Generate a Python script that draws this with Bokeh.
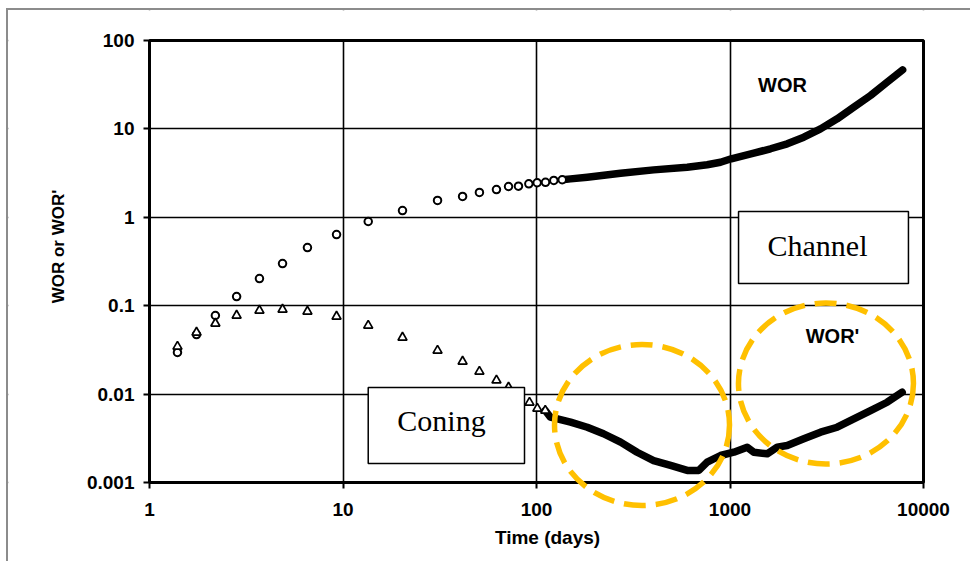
import math
from bokeh.plotting import figure
from bokeh.models import FixedTicker, CustomJSTickFormatter, Label
from bokeh.embed import file_html
from bokeh.resources import INLINE

# ---------------- data ----------------
x_ticks = [1, 10, 100, 1000, 10000]
y_ticks = [0.001, 0.01, 0.1, 1, 10, 100]

# WOR: separate open circles (early time)
wor_circ_t = [1.395, 1.75, 2.19, 2.82, 3.70, 4.87, 6.55, 9.26, 13.5, 20.3, 30.8,
              41.5, 50.7, 62.1, 71.7, 80.7, 91.3, 100.8, 111.3, 122.9, 135.8]
wor_circ_v = [0.0296, 0.0472, 0.0775, 0.127, 0.203, 0.30, 0.455, 0.638, 0.896, 1.19, 1.55,
              1.72, 1.91, 2.06, 2.23, 2.25, 2.39, 2.46, 2.49, 2.61, 2.66]

# WOR: dense late-time points (appear as a thick line)
wor_dense_t = [135.8, 150, 183, 272, 403, 601, 762, 893, 1015, 1328, 1620, 1976,
               2406, 2937, 3580, 4364, 5324, 6491, 7800]
wor_dense_v = [2.66, 2.72, 2.84, 3.15, 3.44, 3.69, 3.93, 4.20, 4.59, 5.31, 5.96, 6.78,
               8.05, 10.0, 13.0, 17.6, 23.9, 33.8, 46.5]

# WOR': separate open triangles (early time)
worp_tri_t = [1.395, 1.75, 2.19, 2.82, 3.70, 4.87, 6.55, 9.26, 13.5, 20.3, 30.8,
              41.5, 50.7, 62.1, 71.7, 80.7, 92, 101, 111]
worp_tri_v = [0.0345, 0.0498, 0.063, 0.0775, 0.0883, 0.0906, 0.0860, 0.0755, 0.0597,
              0.0437, 0.0311, 0.0234, 0.018, 0.0143, 0.0119, 0.0098, 0.00803, 0.00687, 0.00652]

# WOR': dense late-time points (appear as a thick line)
worp_dense_t = [111, 118, 150, 183, 222, 272, 331, 403, 493, 601, 690, 762, 893, 1047,
                1227, 1328, 1557, 1754, 1976, 2406, 2937, 3580, 4364, 5324, 6491, 7762]
worp_dense_v = [0.00652, 0.00548, 0.00481, 0.00422, 0.00356, 0.00286, 0.00220, 0.00177,
                0.00156, 0.00137, 0.00137, 0.00170, 0.00202, 0.00220, 0.00251, 0.00220,
                0.00211, 0.00251, 0.00262, 0.00312, 0.00371, 0.00422, 0.00525, 0.00652,
                0.00809, 0.0105]

# annotation positions (data coordinates)
channel_box = dict(left=1107, right=8360, top=1.164, bottom=0.178)
channel_text = (2833, 0.48)
coning_box = dict(left=13.5, right=86.7, top=0.01188, bottom=0.00164)
coning_text = (32.3, 0.00503)
wor_label = (1867, 31.0)
worp_label = (3388, 0.046)
# dashed highlight ellipses (centres)
ellipse_t = [351, 3133]
ellipse_v = [0.00447, 0.01318]

# ---------------- layout ----------------
X_MIN, X_MAX = 1, 10000
Y_MIN, Y_MAX = 0.001, 100
PLOT_W, PLOT_H = 774, 442                 # size of the gridded plotting area
PAD_L, PAD_R, PAD_T, PAD_B = 141, 47, 30, 79   # free space around it (inside the frame)
x_dec = PLOT_W / 4.0
y_dec = PLOT_H / 5.0
x_start = X_MIN / 10 ** (PAD_L / x_dec)
x_end = X_MAX * 10 ** (PAD_R / x_dec)
y_start = Y_MIN / 10 ** (PAD_B / y_dec)
y_end = Y_MAX * 10 ** (PAD_T / y_dec)
# axis span used to place the x-axis title as in the original
x_title_span = (X_MIN, X_MAX * 10 ** (22 / x_dec))
# y-axis title position (91 px left of the plot, 206 px below its top)
y_title_pos = (X_MIN / 10 ** (91 / x_dec), Y_MAX / 10 ** (206 / y_dec))

p = figure(frame_width=PLOT_W + PAD_L + PAD_R, frame_height=PLOT_H + PAD_T + PAD_B,
           x_axis_type="log", y_axis_type="log",
           x_range=(x_start, x_end), y_range=(y_start, y_end),
           output_backend="svg", toolbar_location=None,
           min_border_left=0, min_border_right=0,
           min_border_top=0, min_border_bottom=0)

p.background_fill_color = "white"
p.border_fill_color = "white"
p.outline_line_color = None

fmt = CustomJSTickFormatter(code="return tick.toString()")
for ax, ticks in ((p.xaxis, x_ticks), (p.yaxis, y_ticks)):
    ax.ticker = FixedTicker(ticks=ticks, minor_ticks=[])
    ax.formatter = fmt
    ax.axis_line_color = None
    ax.major_tick_line_color = "black"
    ax.major_tick_line_width = 2
    ax.major_tick_in = 0
    ax.major_tick_out = 6
    ax.minor_tick_line_color = None
    ax.major_label_text_font = "Liberation Sans"
    ax.major_label_text_font_style = "bold"
    ax.major_label_text_font_size = "19px"
    ax.major_label_text_color = "black"
    ax.axis_label_text_font = "Liberation Sans"
    ax.axis_label_text_font_style = "bold"
    ax.axis_label_text_color = "black"

p.xaxis.fixed_location = Y_MIN
p.yaxis.fixed_location = X_MIN
p.xaxis.bounds = x_title_span
p.yaxis.bounds = (Y_MIN, Y_MAX)

p.xaxis.major_label_standoff = 14
p.yaxis.major_label_standoff = 9
p.xaxis.axis_label = "Time (days)"
p.xaxis.axis_label_text_font_size = "19px"
p.xaxis.axis_label_standoff = 8

for g in (p.xgrid, p.ygrid):
    g.grid_line_color = "black"
    g.grid_line_width = 1.6
    g.minor_grid_line_color = None
p.xgrid.ticker = FixedTicker(ticks=x_ticks, minor_ticks=[])
p.ygrid.ticker = FixedTicker(ticks=y_ticks, minor_ticks=[])

# white strips around the plotting area hide the grid lines outside it
p.quad(left=[x_start, x_start, x_start, X_MAX], right=[x_end, x_end, X_MIN, x_end],
       top=[Y_MIN, y_end, y_end, y_end], bottom=[y_start, Y_MAX, y_start, y_start],
       fill_color="white", line_color=None)
# frame of the plotting area
p.quad(left=[X_MIN], right=[X_MAX], top=[Y_MAX], bottom=[Y_MIN],
       fill_color=None, line_color="black", line_width=3)

# data
p.line(wor_dense_t, wor_dense_v, line_color="black", line_width=7.5, line_cap="round", line_join="round")
p.scatter(wor_circ_t, wor_circ_v, marker="circle", size=7.5, fill_color="white",
          line_color="black", line_width=2)
p.line(worp_dense_t, worp_dense_v, line_color="black", line_width=7.5, line_cap="round", line_join="round")
p.scatter(worp_tri_t, worp_tri_v, marker="triangle", size=9, fill_color="white",
          line_color="black", line_width=1.7)

# boxes
for b in (channel_box, coning_box):
    p.quad(left=[b["left"]], right=[b["right"]], top=[b["top"]], bottom=[b["bottom"]],
           fill_color="white", line_color="black", line_width=1.5)

for (tx, ty), txt in ((channel_text, "Channel"), (coning_text, "Coning")):
    p.add_layout(Label(x=tx, y=ty, text=txt, text_font="Liberation Serif",
                       text_font_size="30px", text_align="center",
                       text_baseline="middle", text_color="black"))

for (tx, ty), txt in ((wor_label, "WOR"), (worp_label, "WOR'")):
    p.add_layout(Label(x=tx, y=ty, text=txt, text_font="Liberation Sans",
                       text_font_style="bold", text_font_size="20px",
                       text_align="center", text_baseline="middle", text_color="black"))

# y-axis title
p.add_layout(Label(x=y_title_pos[0], y=y_title_pos[1], text="WOR or WOR'",
                   angle=math.pi / 2, text_font="Liberation Sans", text_font_style="bold",
                   text_font_size="17px", text_align="center", text_baseline="middle",
                   text_color="black"))

# dashed highlight ellipses
p.ellipse(x=ellipse_t, y=ellipse_v, width=175, height=161,
          width_units="screen", height_units="screen",
          fill_color=None, line_color="#FFC000", line_width=5.5, line_dash="22 10")

p.styles = {"border-top": "2px solid #8c8c8c", "border-left": "2px solid #8c8c8c",
            "margin-left": "6px", "margin-top": "8px"}

open("out.html", "w").write(file_html(p, INLINE))
